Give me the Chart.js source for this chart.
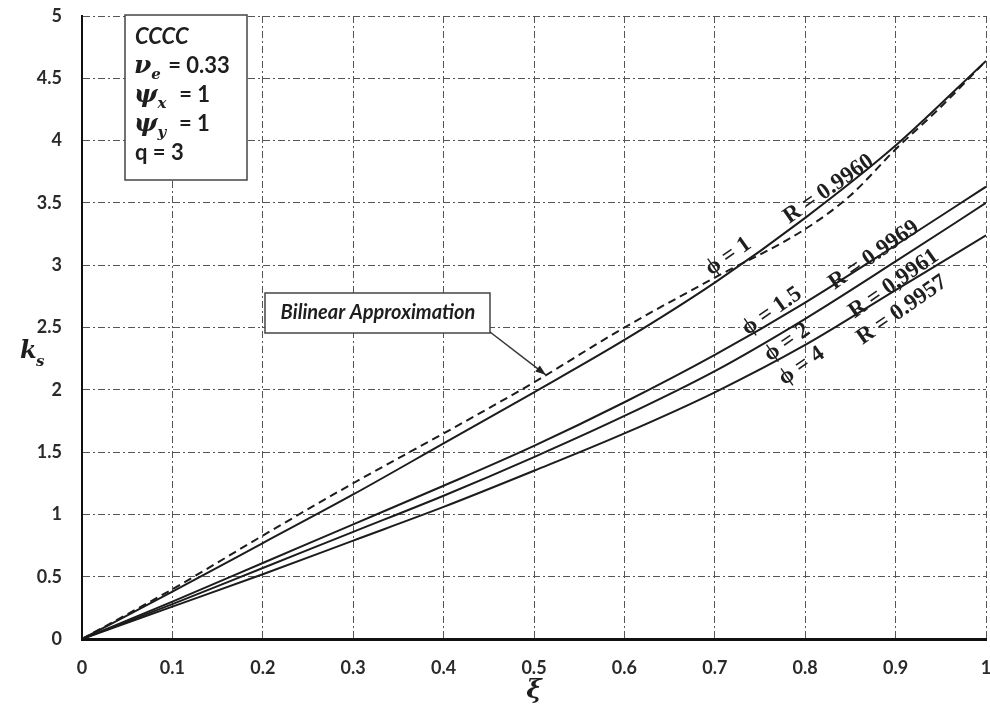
<!DOCTYPE html>
<html>
<head>
<meta charset="utf-8">
<script src="https://cdn.jsdelivr.net/npm/chart.js@4.4.1/dist/chart.umd.min.js"></script>
<style>
  html, body { margin: 0; padding: 0; background: #fff; }
</style>
</head>
<body>
<canvas id="ksChart" width="990" height="718"></canvas>
<script>
// valores
const xi = [0, 0.1, 0.2, 0.3, 0.4, 0.5, 0.6, 0.7, 0.8, 0.9, 1];
const ksPhi1 = [0, 0.38, 0.77, 1.16, 1.57, 1.98, 2.40, 2.86, 3.38, 3.96, 4.64];
const ksPhi15 = [0, 0.30, 0.61, 0.92, 1.23, 1.55, 1.90, 2.28, 2.70, 3.16, 3.63];
const ksPhi2 = [0, 0.28, 0.57, 0.86, 1.15, 1.46, 1.79, 2.15, 2.57, 3.03, 3.50];
const ksPhi4 = [0, 0.26, 0.52, 0.79, 1.06, 1.35, 1.65, 1.98, 2.36, 2.80, 3.24];
const xiBilineal = [0, 0.1, 0.2, 0.3, 0.4, 0.5, 0.6, 0.7, 0.8, 0.85, 0.9, 0.95, 1];
const ksBilineal = [0, 0.40, 0.83, 1.25, 1.65, 2.06, 2.50, 2.90, 3.29, 3.56, 3.93, 4.27, 4.64];

const xTicks = ["0", "0.1", "0.2", "0.3", "0.4", "0.5", "0.6", "0.7", "0.8", "0.9", "1"];
const yTicks = ["0", "0.5", "1", "1.5", "2", "2.5", "3", "3.5", "4", "4.5", "5"];

// etiquetas sobre las curvas (posicion en unidades de datos)
const etiquetas = [
  { txt: "ϕ = 1", x: 0.715, y: 3.07 },
  { txt: "R = 0.9960", x: 0.826, y: 3.61 },
  { txt: "ϕ = 1.5", x: 0.763, y: 2.63 },
  { txt: "R = 0.9969", x: 0.876, y: 3.08 },
  { txt: "ϕ = 2", x: 0.780, y: 2.38 },
  { txt: "R = 0,9961", x: 0.898, y: 2.85 },
  { txt: "ϕ = 4", x: 0.796, y: 2.19 },
  { txt: "R = 0.9957", x: 0.907, y: 2.64 }
];

const pares = (xs, ys) => xs.map((x, i) => ({ x: x, y: ys[i] }));

const serie = (ys, dash, xs) => ({
  data: pares(xs || xi, ys),
  borderColor: "#1c1c1c",
  borderWidth: 2,
  borderDash: dash || [],
  pointRadius: 0,
  fill: false,
  tension: dash ? 0 : 0.4,
  cubicInterpolationMode: "monotone"
});

const sansBold = '"Lato", "Liberation Sans", sans-serif';

const dibujarTexto = {
  id: "dibujarTexto",
  afterDraw(chart) {
    const ctx = chart.ctx;
    const sx = chart.scales.x;
    const sy = chart.scales.y;
    ctx.save();
    ctx.fillStyle = "#1e1e1e";

    // etiquetas inclinadas
    ctx.font = 'bold 23px "Liberation Serif", "DejaVu Serif", serif';
    ctx.textAlign = "center";
    ctx.textBaseline = "middle";
    etiquetas.forEach((e) => {
      ctx.save();
      ctx.translate(sx.getPixelForValue(e.x), sy.getPixelForValue(e.y));
      ctx.rotate(-35 * Math.PI / 180);
      ctx.fillText(e.txt, 0, 0);
      ctx.restore();
    });

    // caja de parametros
    ctx.textAlign = "left";
    ctx.textBaseline = "alphabetic";
    ctx.strokeStyle = "#444";
    ctx.lineWidth = 1.5;
    ctx.fillStyle = "#fff";
    ctx.fillRect(125, 15, 122, 165);
    ctx.strokeRect(125, 15, 122, 165);
    ctx.fillStyle = "#1e1e1e";

    ctx.font = "bold italic 22px " + sansBold;
    ctx.fillText("CCCC", 135, 44);

    const linea = (simb, sub, resto, y) => {
      let x = 134;
      ctx.font = 'italic bold 25px "DejaVu Serif", serif';
      ctx.fillText(simb, x, y);
      x += ctx.measureText(simb).width;
      ctx.font = 'italic bold 15px "DejaVu Serif", serif';
      ctx.fillText(sub, x, y + 6);
      x += ctx.measureText(sub).width;
      ctx.font = "bold 22px " + sansBold;
      ctx.fillText(resto, x + 2, y);
    };
    linea("ν", "e", " = 0.33", 73);
    linea("ψ", "x", "  = 1", 102);
    linea("ψ", "y", "  = 1", 131);
    ctx.font = "bold 22px " + sansBold;
    ctx.fillText("q = 3", 135, 160);

    // caja "Bilinear Approximation" con flecha
    ctx.fillStyle = "#fff";
    ctx.fillRect(265, 293, 225, 40);
    ctx.strokeRect(265, 293, 225, 40);
    ctx.fillStyle = "#1e1e1e";
    ctx.font = "bold italic 20px " + sansBold;
    ctx.textAlign = "center";
    ctx.textBaseline = "middle";
    ctx.fillText("Bilinear Approximation", 378, 313);

    const x0 = 490, y0 = 332, x1 = sx.getPixelForValue(0.513), y1 = sy.getPixelForValue(2.12);
    ctx.strokeStyle = "#333";
    ctx.lineWidth = 1.5;
    ctx.beginPath();
    ctx.moveTo(x0, y0);
    ctx.lineTo(x1, y1);
    ctx.stroke();
    const ang = Math.atan2(y1 - y0, x1 - x0);
    ctx.beginPath();
    ctx.moveTo(x1, y1);
    ctx.lineTo(x1 - 11 * Math.cos(ang - 0.35), y1 - 11 * Math.sin(ang - 0.35));
    ctx.lineTo(x1 - 11 * Math.cos(ang + 0.35), y1 - 11 * Math.sin(ang + 0.35));
    ctx.closePath();
    ctx.fillStyle = "#222";
    ctx.fill();

    // titulos de ejes
    ctx.fillStyle = "#1e1e1e";
    ctx.textAlign = "left";
    ctx.textBaseline = "alphabetic";
    ctx.font = 'italic bold 24px "DejaVu Serif", serif';
    ctx.fillText("k", 20, 358);
    ctx.font = 'italic bold 15px "DejaVu Serif", serif';
    ctx.fillText("s", 36, 366);
    ctx.font = 'italic bold 26px "DejaVu Serif", serif';
    ctx.textAlign = "center";
    ctx.fillText("ξ", (chart.chartArea.left + chart.chartArea.right) / 2, 698);

    ctx.restore();
  }
};

const ctx = document.getElementById("ksChart").getContext("2d");

new Chart(ctx, {
  type: "line",
  data: {
    datasets: [
      serie(ksPhi1),
      serie(ksPhi15),
      serie(ksPhi2),
      serie(ksPhi4),
      serie(ksBilineal, [8, 5], xiBilineal)
    ]
  },
  options: {
    responsive: false,
    animation: false,
    layout: { padding: { top: 16, right: 4, left: 0, bottom: 0 } },
    plugins: { legend: { display: false }, tooltip: { enabled: false } },
    scales: {
      x: {
        type: "linear",
        min: 0,
        max: 1,
        afterFit: (s) => {
          s.height = 79;
          s.paddingLeft = 0;
          s.paddingRight = 0;
        },
        afterBuildTicks: (s) => { s.ticks = xi.map((v) => ({ value: v })); },
        ticks: {
          callback: (v, i) => xTicks[i],
          color: "#2a2a2a",
          font: { family: sansBold, size: 18, weight: "bold" },
          padding: 18,
          maxRotation: 0,
          autoSkip: false
        },
        grid: { color: "#555", lineWidth: 1, drawTicks: false },
        border: { display: true, color: "#111", width: 3, dash: [7, 3, 2, 3] }
      },
      y: {
        type: "linear",
        min: 0,
        max: 5,
        afterFit: (s) => {
          s.width = 82;
          s.paddingTop = 0;
          s.paddingBottom = 0;
        },
        afterBuildTicks: (s) => { s.ticks = yTicks.map((t) => ({ value: parseFloat(t) })); },
        ticks: {
          callback: (v, i) => yTicks[i],
          color: "#2a2a2a",
          font: { family: sansBold, size: 18, weight: "bold" },
          padding: 20,
          autoSkip: false
        },
        grid: { color: "#555", lineWidth: 1, drawTicks: false },
        border: { display: true, color: "#111", width: 2, dash: [7, 3, 2, 3] }
      }
    }
  },
  plugins: [dibujarTexto]
});
</script>
</body>
</html>
